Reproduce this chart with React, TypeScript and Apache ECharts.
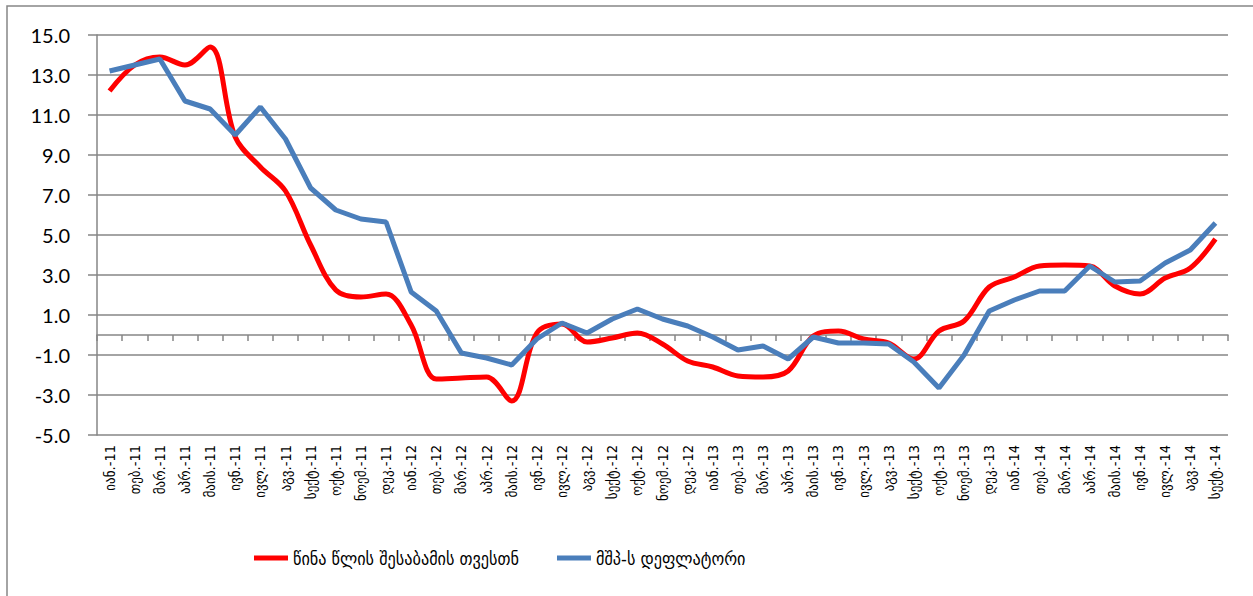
import React, { useEffect, useRef } from "react";
import * as echarts from "echarts";

const months = ["იან.", "თებ.", "მარ.", "აპრ.", "მაის.", "ივნ.", "ივლ.", "აგვ.", "სექტ.", "ოქტ.", "ნოემ.", "დეკ."];
const categories: string[] = [
  ...months.map((m) => m + "-11"),
  ...months.map((m) => m + "-12"),
  ...months.map((m) => m + "-13"),
  ...months.slice(0, 9).map((m) => m + "-14"),
];

const yoySeries = [
  12.2, 13.5, 13.9, 13.5, 14.4, 9.9, 8.4, 7.2, 4.5, 2.25, 1.9, 2.05,
  0.5, -2.2, -2.15, -2.1, -3.3, 0.1, 0.55, -0.35, -0.15, 0.1, -0.45, -1.3,
  -1.6, -2.05, -2.1, -1.8, -0.05, 0.2, -0.2, -0.4, -1.2, 0.2, 0.7, 2.4,
  2.9, 3.45, 3.5, 3.45, 2.45, 2.05, 2.85, 3.35, 4.8,
];

const deflatorSeries = [
  13.2, 13.5, 13.8, 11.7, 11.3, 10.0, 11.4, 9.8, 7.35, 6.25, 5.8, 5.65,
  2.15, 1.2, -0.9, -1.15, -1.5, -0.2, 0.6, 0.1, 0.8, 1.3, 0.8, 0.45,
  -0.1, -0.75, -0.55, -1.2, -0.1, -0.4, -0.4, -0.45, -1.35, -2.65, -1.0, 1.2,
  1.75, 2.2, 2.2, 3.45, 2.65, 2.7, 3.6, 4.25, 5.6,
];

const seriesNames = ["წინა წლის შესაბამის თვესთნ", "მშპ-ს დეფლატორი"];

const GRAY = "#868686";
const GEO_FONT = "'DejaVu Sans Condensed', 'DejaVu Sans'";

export default function App() {
  const ref = useRef<HTMLDivElement>(null);
  useEffect(() => {
    document.body.style.margin = "0";
    const chart = echarts.init(ref.current!, undefined, { renderer: "svg" });
    chart.setOption({
      animation: false,
      backgroundColor: "#ffffff",
      graphic: [
        {
          type: "rect",
          shape: { x: 7, y: 6, width: 1270, height: 700 },
          style: { fill: "none", stroke: GRAY, lineWidth: 1.5 },
          silent: true,
        },
      ],
      grid: { left: 97, right: 25, top: 35, bottom: 161, containLabel: false },
      legend: {
        data: seriesNames,
        bottom: 24,
        left: 249,
        itemWidth: 34,
        itemHeight: 5,
        itemGap: 38,
        icon: "rect",
        textStyle: { fontFamily: GEO_FONT, fontSize: 18, color: "#000" },
      },
      xAxis: [
        {
          type: "category",
          data: categories,
          boundaryGap: true,
          position: "bottom",
          axisLine: { show: false, onZero: false },
          axisTick: { show: false },
          axisLabel: {
            interval: 0,
            rotate: 90,
            margin: 10,
            fontFamily: GEO_FONT,
            fontSize: 14.5,
            color: "#000",
          },
          splitLine: { show: false },
        },
        {
          type: "category",
          data: categories,
          boundaryGap: true,
          position: "bottom",
          axisLine: { show: true, onZero: true, lineStyle: { color: GRAY, width: 1.5 } },
          axisTick: { show: true, interval: 0, length: 6, lineStyle: { color: GRAY, width: 1.5 } },
          axisLabel: { show: false },
          splitLine: { show: false },
        },
      ],
      yAxis: {
        type: "value",
        min: -5,
        max: 15,
        interval: 2,
        axisLine: { show: true, lineStyle: { color: GRAY, width: 1.5 } },
        axisTick: { show: true, length: 9, lineStyle: { color: GRAY, width: 1.5 } },
        axisLabel: {
          formatter: (v: number) => v.toFixed(1),
          margin: 27,
          fontFamily: "Lato",
          fontSize: 20,
          color: "#000",
        },
        splitLine: { show: true, lineStyle: { color: GRAY, width: 1.5 } },
      },
      series: [
        {
          name: seriesNames[0],
          type: "line",
          data: yoySeries,
          smooth: 0.35,
          symbol: "none",
          lineStyle: { color: "#FF0000", width: 5 },
          itemStyle: { color: "#FF0000" },
          z: 3,
        },
        {
          name: seriesNames[1],
          type: "line",
          data: deflatorSeries,
          smooth: false,
          symbol: "none",
          lineStyle: { color: "#4A7EBB", width: 5 },
          itemStyle: { color: "#4A7EBB" },
          z: 4,
        },
      ],
    });
    return () => chart.dispose();
  }, []);
  return <div ref={ref} style={{ width: 1253, height: 596 }} />;
}
